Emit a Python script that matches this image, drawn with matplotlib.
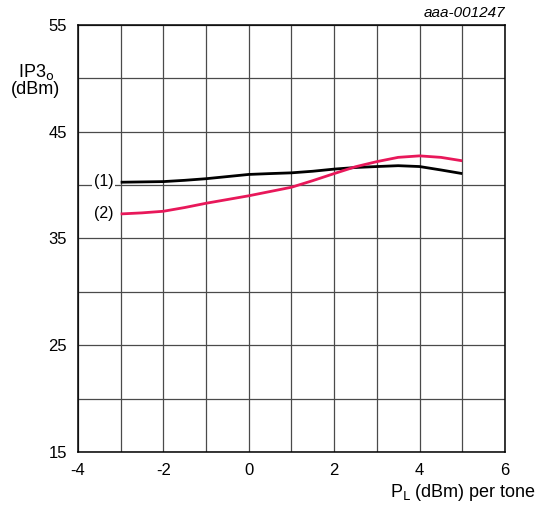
import numpy as np
from matplotlib import pyplot as plt

plt.rcParams['font.family'] = ['Liberation Sans', 'DejaVu Sans']
plt.rcParams['axes.unicode_minus'] = False

pl = [-3, -2.5, -2, -1.5, -1, -0.5, 0, 0.5, 1, 1.5, 2, 2.5, 3, 3.5, 4, 4.5, 5]
ip3_1 = [40.27, 40.3, 40.33, 40.45, 40.6, 40.8, 41.0, 41.08, 41.15, 41.3, 41.5,
         41.65, 41.74, 41.82, 41.74, 41.42, 41.08]
ip3_2 = [37.3, 37.4, 37.55, 37.9, 38.3, 38.65, 39.0, 39.4, 39.8, 40.42, 41.08,
         41.72, 42.2, 42.6, 42.74, 42.6, 42.28]
curve_labels = ['(1)', '(2)']
xticks = [-4, -2, 0, 2, 4, 6]
yticks = [15, 25, 35, 45, 55]

fig = plt.figure(figsize=(5.36, 5.05), dpi=100)
ax = fig.add_axes([0.1455, 0.105, 0.7965, 0.8455])

ax.set_xlim(-4, 6)
ax.set_ylim(15, 55)
ax.set_xticks(xticks)
ax.set_yticks(yticks)
ax.set_xticks(np.arange(-4, 7, 1), minor=True)
ax.set_yticks(np.arange(15, 56, 5), minor=True)
ax.grid(True, which='both', color='#4a4a4a', linewidth=0.9)
ax.tick_params(which='both', length=0, labelsize=12, pad=8)
for s in ax.spines.values():
    s.set_linewidth(1.1)
ax.set_axisbelow(True)

ax.plot(pl, ip3_1, color='black', linewidth=2, solid_capstyle='butt')
ax.plot(pl, ip3_2, color='#e8185a', linewidth=2, solid_capstyle='butt')

ax.text(-3.4, ip3_1[0] + 0.05, curve_labels[0], fontsize=11.5, ha='center', va='center',
        bbox=dict(facecolor='white', edgecolor='none', pad=1))
ax.text(-3.4, ip3_2[0] + 0.05, curve_labels[1], fontsize=11.5, ha='center', va='center',
        bbox=dict(facecolor='white', edgecolor='none', pad=1))

fig.text(0.067, 0.858, 'IP3$_\\mathrm{o}$', fontsize=13, ha='center', va='center')
fig.text(0.067, 0.822, '(dBm)', fontsize=13, ha='center', va='center')
fig.text(0.943, 0.975, 'aaa-001247', fontsize=11, ha='right', va='center', style='italic')
fig.text(1.0, 0.024, 'P$_\\mathrm{L}$ (dBm) per tone', fontsize=13, ha='right', va='center')

fig.savefig('out.png', dpi=100)
